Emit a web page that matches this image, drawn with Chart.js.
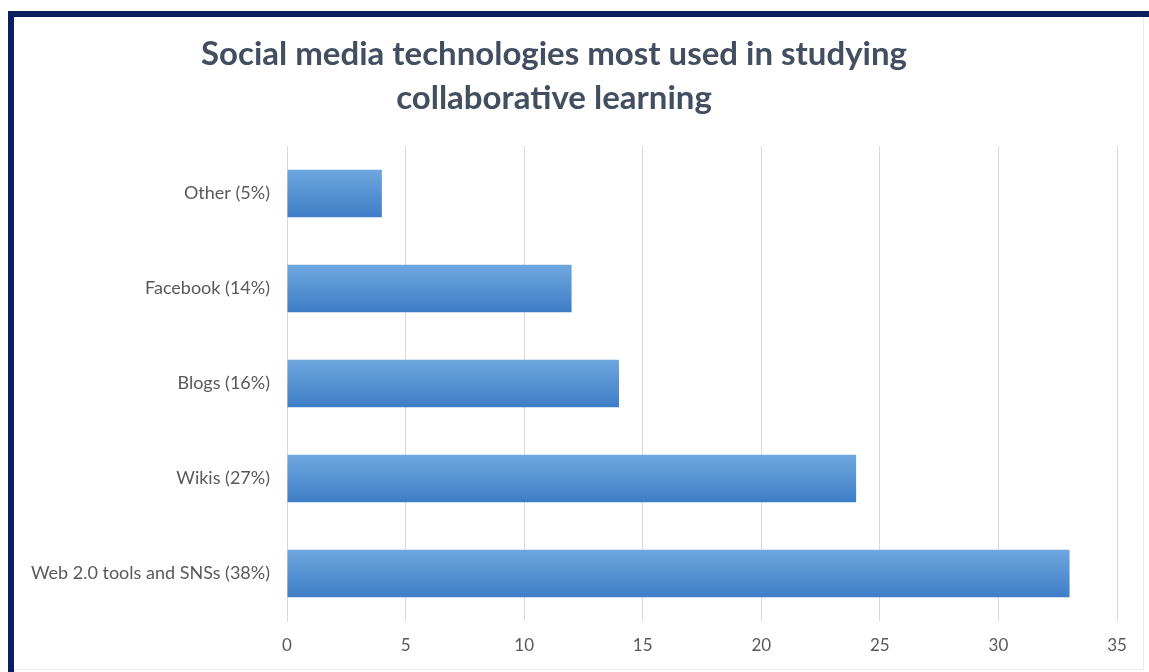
<!DOCTYPE html>
<html>
<head>
<meta charset="utf-8">
<script src="https://cdn.jsdelivr.net/npm/chart.js@4"></script>
<style>
  html, body { margin: 0; padding: 0; background: #fff; overflow: hidden; }
  #frame {
    position: absolute; left: 8px; top: 11px; width: 1200px; height: 700px;
    border-top: 6px solid #0b1f5f; border-left: 6px solid #0b1f5f;
  }
  #inner {
    position: absolute; left: 14px; top: 17px; width: 1129px; height: 652px;
    border-right: 1px solid #e8ebee; border-bottom: 1px solid #e8ebee;
  }
  #wrap { position: absolute; left: 0; top: 0; width: 1149px; height: 672px; }
</style>
</head>
<body>
<div id="frame"></div>
<div id="inner"></div>
<div id="wrap"><canvas id="grafico"></canvas></div>
<script>
// datos del grafico
const categorias = ["Other (5%)", "Facebook (14%)", "Blogs (16%)", "Wikis (27%)", "Web 2.0 tools and SNSs (38%)"];
const valores = [4, 12, 14, 24, 33];
const ticksX = [0, 5, 10, 15, 20, 25, 30, 35];
const titulo = ["Social media technologies most used in studying", "collaborative learning"];

// degradado vertical de cada barra (claro arriba, oscuro abajo)
function colorBarra(context) {
    const chart = context.chart;
    const escala = chart.scales.y;
    if (!chart.chartArea || !escala) return "#5b9bd5";
    const y = escala.getPixelForValue(context.dataIndex);
    const mitad = (escala.height / categorias.length) * 0.5 / 2;
    const g = chart.ctx.createLinearGradient(0, y - mitad, 0, y + mitad);
    g.addColorStop(0, "#6fa7df");
    g.addColorStop(1, "#3e7dc6");
    return g;
}

// titulo en dos lineas centrado
const pluginTitulo = {
    id: "titulo",
    afterDraw(chart) {
        const ctx = chart.ctx;
        ctx.save();
        ctx.font = "bold 33px Lato";
        ctx.fillStyle = "#434f60";
        ctx.textAlign = "center";
        ctx.textBaseline = "middle";
        titulo.forEach((linea, i) => ctx.fillText(linea, 554, 54 + i * 44));
        ctx.restore();
    }
};

document.addEventListener("DOMContentLoaded", function () {
    const ctx = document.getElementById("grafico").getContext("2d");
    new Chart(ctx, {
        type: "bar",
        data: {
            labels: categorias,
            datasets: [{
                data: valores,
                backgroundColor: colorBarra,
                borderWidth: 0,
                barPercentage: 0.5,
                categoryPercentage: 1.0
            }]
        },
        options: {
            indexAxis: "y",
            responsive: true,
            maintainAspectRatio: false,
            animation: false,
            layout: { padding: { left: 14, right: 32, top: 146, bottom: 0 } },
            plugins: {
                legend: { display: false },
                tooltip: { enabled: false }
            },
            scales: {
                x: {
                    min: 0,
                    max: 35,
                    afterBuildTicks: axis => { axis.ticks = ticksX.map(v => ({ value: v })); },
                    afterFit: scale => { scale.height = 51; },
                    grid: { color: "#d9d9d9", drawTicks: false },
                    border: { display: false },
                    ticks: { color: "#595959", font: { family: "Lato", size: 17 }, padding: 14 }
                },
                y: {
                    afterFit: scale => { scale.width = 273; },
                    grid: { display: false, drawTicks: false },
                    border: { display: true, color: "#d9d9d9" },
                    ticks: { color: "#595959", font: { family: "Lato", size: 18 }, padding: 17 }
                }
            }
        },
        plugins: [pluginTitulo]
    });
});
</script>
</body>
</html>
